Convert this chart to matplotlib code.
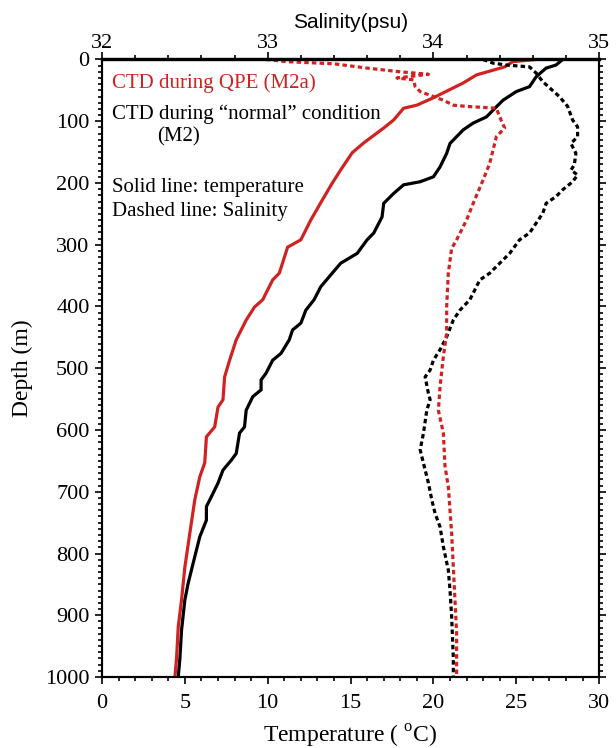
import matplotlib
matplotlib.use('agg')
import matplotlib.pyplot as plt
from matplotlib.ticker import MultipleLocator

plt.rcParams['font.family'] = ['Liberation Serif', 'DejaVu Serif']
plt.rcParams['mathtext.fontset'] = 'custom'
plt.rcParams['mathtext.rm'] = 'Liberation Serif'

RED = '#d12222'

# CTD during QPE (M2a)
qpe_temp_depth = [0, 3.5, 12, 25, 38, 62, 74, 79, 98, 111, 135, 151, 179, 200, 232, 260,
                  292, 304, 346, 357, 389, 401, 422, 454, 487, 514, 551, 563, 595, 611,
                  653, 676, 713, 767, 822, 875, 919, 969, 1000]
qpe_temp = [26.2, 24.8, 24.3, 22.6, 21.8, 20.0, 19.0, 18.2, 17.6, 17.0, 15.8, 15.1, 14.4,
            13.9, 13.2, 12.6, 12.0, 11.2, 10.7, 10.3, 9.7, 9.2, 8.7, 8.1, 7.7, 7.4, 7.3,
            7.0, 6.8, 6.3, 6.2, 5.9, 5.6, 5.3, 5.0, 4.8, 4.6, 4.5, 4.4]
qpe_sal_depth = [0, 3.5, 7, 14, 20, 24, 30, 33, 44, 52, 60, 66, 74, 76, 79, 93, 111, 125,
                 168, 195, 233, 260, 292, 306, 346, 400, 443, 481, 530, 568, 605, 659,
                 692, 767, 821, 875, 929, 969, 1000]
qpe_sal = [32.99, 33.11, 33.40, 33.60, 33.80, 33.97, 33.78, 33.88, 33.89, 33.92, 34.00,
           34.06, 34.12, 34.20, 34.38, 34.40, 34.43, 34.38, 34.34, 34.30, 34.24, 34.20,
           34.14, 34.11, 34.09, 34.08, 34.08, 34.06, 34.04, 34.03, 34.06, 34.07, 34.09,
           34.11, 34.12, 34.13, 34.14, 34.14, 34.14]

# CTD during "normal" condition (M2)
m2_temp_depth = [0, 9, 14, 28, 44, 52, 66, 82, 93, 103, 114, 136, 152, 174, 190, 198, 203,
                 217, 233, 255, 281, 292, 314, 330, 368, 389, 406, 427, 438, 454, 476, 487,
                 508, 519, 535, 546, 568, 595, 605, 638, 649, 665, 686, 708, 724, 746, 773,
                 805, 848, 875, 924, 970, 1000]
m2_temp = [27.8, 27.4, 26.8, 26.2, 25.8, 25.0, 24.2, 23.6, 23.2, 22.4, 21.8, 21.0, 20.8,
           20.4, 20.0, 19.2, 18.2, 17.6, 17.0, 16.9, 16.4, 16.0, 15.4, 14.4, 13.2, 12.8,
           12.3, 12.0, 11.5, 11.3, 10.8, 10.3, 9.9, 9.6, 9.6, 9.1, 8.7, 8.6, 8.3, 8.1, 7.8,
           7.3, 7.0, 6.6, 6.3, 6.3, 5.9, 5.6, 5.2, 5.0, 4.8, 4.7, 4.6]
m2_sal_depth = [0, 6, 9, 12, 22, 36, 60, 76, 98, 109, 125, 136, 152, 171, 179, 187, 198,
                211, 222, 233, 249, 281, 292, 314, 330, 346, 357, 389, 406, 422, 449, 470,
                487, 503, 514, 541, 551, 568, 605, 632, 654, 686, 713, 735, 757, 789, 827,
                859, 902, 969, 1000]
m2_sal = [34.30, 34.36, 34.44, 34.58, 34.62, 34.66, 34.76, 34.81, 34.84, 34.87, 34.87,
          34.83, 34.86, 34.85, 34.83, 34.87, 34.84, 34.78, 34.74, 34.68, 34.66, 34.58,
          34.52, 34.46, 34.40, 34.34, 34.28, 34.22, 34.16, 34.12, 34.08, 34.04, 34.00,
          33.98, 33.95, 33.97, 33.98, 33.96, 33.94, 33.92, 33.94, 33.97, 33.99, 34.01,
          34.04, 34.06, 34.09, 34.10, 34.11, 34.12, 34.12]

fig = plt.figure(figsize=(6.16, 7.48), dpi=100)
ax = fig.add_axes([0.1656, 0.0949, 0.807, 0.8256])
ax2 = ax.twiny()

lw = 2.3
dash = (0, (1.4, 1.0))

ax.plot(m2_temp, m2_temp_depth, color='black', lw=lw, solid_joinstyle='miter', zorder=3)
ax.plot(qpe_temp, qpe_temp_depth, color=RED, lw=lw, solid_joinstyle='miter', zorder=4)
ax2.plot(m2_sal, m2_sal_depth, color='black', lw=lw, linestyle=dash, dash_capstyle='butt')
ax2.plot(qpe_sal, qpe_sal_depth, color=RED, lw=lw, linestyle=dash, dash_capstyle='butt')

ax.set_xlim(0, 30)
ax.set_ylim(1000, 0)
ax2.set_xlim(32, 35)

ax.xaxis.set_major_locator(MultipleLocator(5))
ax.xaxis.set_minor_locator(MultipleLocator(1))
ax.yaxis.set_major_locator(MultipleLocator(100))
ax.yaxis.set_minor_locator(MultipleLocator(10))
ax2.xaxis.set_major_locator(MultipleLocator(1))
ax2.xaxis.set_minor_locator(MultipleLocator(0.2))

ax.tick_params(axis='both', which='both', direction='out', labelsize=16, width=1.2,
               right=True)
ax.tick_params(which='major', length=5)
ax.tick_params(which='minor', length=3)
ax.tick_params(axis='y', which='major', pad=4)
ax.tick_params(axis='x', which='major', pad=7)
ax2.tick_params(axis='x', which='both', direction='out', labelsize=16, width=1.2)
ax2.tick_params(which='major', length=5, pad=0)
ax2.tick_params(which='minor', length=3)

for a in (ax, ax2):
    for side in ('left', 'right', 'bottom'):
        a.spines[side].set_linewidth(1.5)
    a.spines['top'].set_linewidth(2.3)

ax.set_xlabel('Temperature ( $^{\\mathrm{o}}$C)', fontsize=17, labelpad=7)
ax.set_ylabel('Depth (m)', fontsize=17, labelpad=9)
ax2.set_xlabel('Salinity(psu)', fontsize=15, labelpad=4, family='Liberation Sans')

ax.text(0.02, 0.961, 'CTD during QPE (M2a)', transform=ax.transAxes, fontsize=15,
        color=RED, va='center', ha='left')
ax.text(0.02, 0.912, 'CTD during \u201cnormal\u201d condition', transform=ax.transAxes,
        fontsize=15, color='black', va='center', ha='left')
ax.text(0.11, 0.874, '(M2)', transform=ax.transAxes, fontsize=15, color='black',
        va='center', ha='left')
ax.text(0.02, 0.792, 'Solid line: temperature', transform=ax.transAxes, fontsize=15,
        color='black', va='center', ha='left')
ax.text(0.02, 0.754, 'Dashed line: Salinity', transform=ax.transAxes, fontsize=15,
        color='black', va='center', ha='left')

plt.savefig('out.png', dpi=100)
